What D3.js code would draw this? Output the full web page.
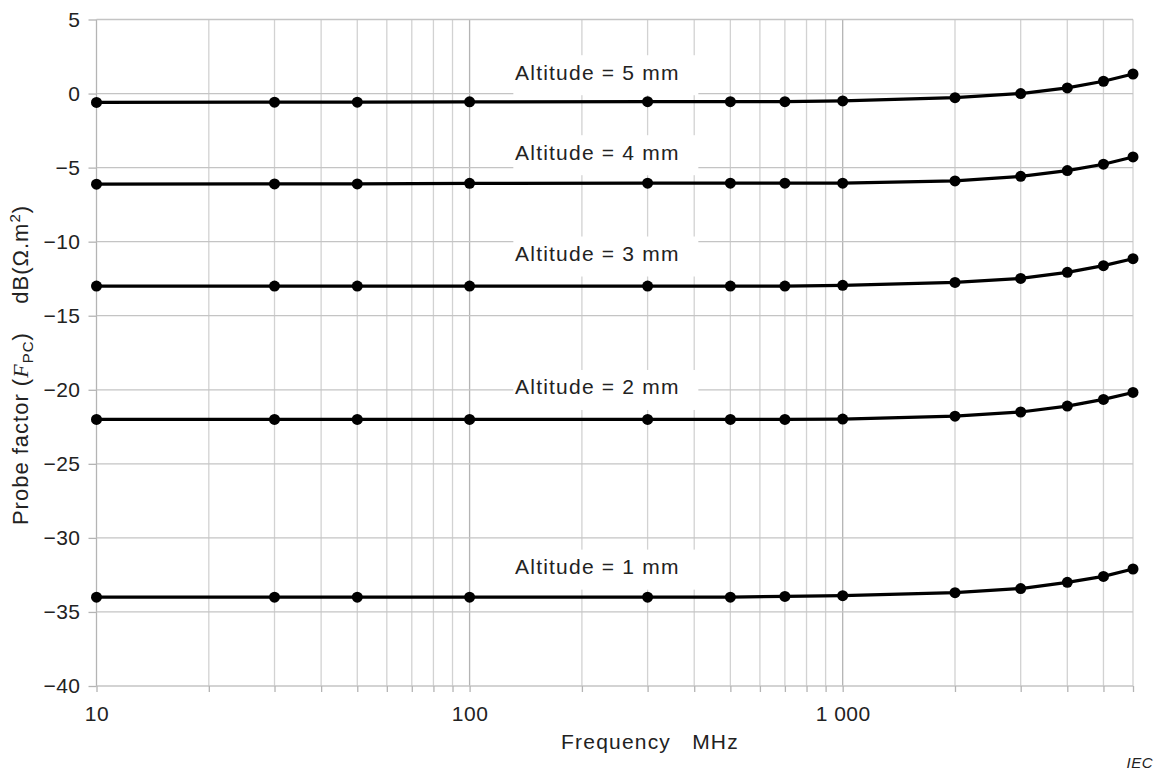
<!DOCTYPE html>
<html>
<head>
<meta charset="utf-8">
<script src="https://cdn.jsdelivr.net/npm/d3@7"></script>
<style>
  body { margin: 0; background: #fff; }
  svg { display: block; font-family: Arial, "Liberation Sans", sans-serif; }
</style>
</head>
<body>
<svg></svg>
<script>
var width = 1164;
var height = 774;

// data
var freqs = [10, 30, 50, 100, 300, 500, 700, 1000, 2000, 3000, 4000, 5000, 6000];
var alt5 = [-0.6, -0.58, -0.58, -0.56, -0.55, -0.55, -0.55, -0.5, -0.28, 0.0, 0.38, 0.83, 1.32];
var alt4 = [-6.12, -6.1, -6.1, -6.06, -6.05, -6.05, -6.05, -6.05, -5.9, -5.59, -5.2, -4.77, -4.28];
var alt3 = [-13, -13, -13, -13, -13, -13, -13, -12.95, -12.75, -12.48, -12.07, -11.62, -11.15];
var alt2 = [-22, -22, -22, -22, -22, -22, -22, -21.98, -21.78, -21.5, -21.1, -20.65, -20.18];
var alt1 = [-34, -34, -34, -34, -34, -34, -33.95, -33.9, -33.7, -33.42, -33.0, -32.6, -32.1];
var seriesNames = ['Altitude = 5 mm', 'Altitude = 4 mm', 'Altitude = 3 mm', 'Altitude = 2 mm', 'Altitude = 1 mm'];
var labelValues = [1.44, -3.96, -10.8, -19.81, -31.94];
var labelFreq = 220;

var yTicks = [5, 0, -5, -10, -15, -20, -25, -30, -35, -40];
var xMajor = [10, 100, 1000];
var xMajorLabels = ['10', '100', '1 000'];
var xGrid = [10, 20, 30, 40, 50, 60, 70, 80, 90, 100, 200, 300, 400, 500, 600, 700, 800, 900,
             1000, 2000, 3000, 4000, 5000, 6000];

var allSeries = [alt5, alt4, alt3, alt2, alt1];

var x = d3.scaleLog()
    .domain([10, 6000])
    .range([96.5, 1133]);

var y = d3.scaleLinear()
    .domain([-40, 5])
    .range([686, 19.5]);

const svg = d3.select('svg')
    .attr('width', width)
    .attr('height', height);

// grid
svg.append('g')
    .selectAll('line')
    .data(xGrid)
    .join('line')
    .attr('x1', d => x(d)).attr('x2', d => x(d))
    .attr('y1', y(5)).attr('y2', y(-40))
    .attr('stroke', d => xMajor.includes(d) ? '#b4b4b4' : '#d2d2d2')
    .attr('stroke-width', 1.3);

svg.append('g')
    .selectAll('line')
    .data(yTicks)
    .join('line')
    .attr('x1', x(10)).attr('x2', x(6000))
    .attr('y1', d => y(d)).attr('y2', d => y(d))
    .attr('stroke', '#c4c4c4')
    .attr('stroke-width', 1.3);

// axes
const xAxis = d3.axisBottom(x)
    .tickValues(xGrid)
    .tickSize(6)
    .tickPadding(14)
    .tickFormat(d => {
        var i = xMajor.indexOf(d);
        return i >= 0 ? xMajorLabels[i] : '';
    });

const yAxis = d3.axisLeft(y)
    .tickValues(yTicks)
    .tickSize(8)
    .tickPadding(8)
    .tickFormat(d => d < 0 ? '\u2212' + Math.abs(d) : d);

svg.append('g')
    .attr('transform', `translate(0,${y(-40)})`)
    .call(xAxis)
    .call(g => g.select('.domain').remove())
    .call(g => g.selectAll('line').attr('stroke', '#b4b4b4').attr('stroke-width', 1.3))
    .call(g => g.selectAll('text').attr('fill', '#222').attr('font-size', 21)
        .attr('letter-spacing', 0.5).attr('font-family', null));

svg.append('g')
    .attr('transform', `translate(${x(10)},0)`)
    .call(yAxis)
    .call(g => g.select('.domain').remove())
    .call(g => g.selectAll('line').attr('stroke', '#b4b4b4').attr('stroke-width', 1.3))
    .call(g => g.selectAll('text').attr('fill', '#222').attr('font-size', 21)
        .attr('letter-spacing', 0.5).attr('font-family', null));

// label boxes hide the grid behind them
var labels = svg.append('g')
    .selectAll('g')
    .data(seriesNames)
    .join('g')
    .attr('transform', (d, i) => `translate(${x(labelFreq)},${y(labelValues[i])})`);

labels.append('rect')
    .attr('x', -84).attr('y', -17)
    .attr('width', 185).attr('height', 40)
    .attr('fill', '#fff');

labels.append('text')
    .attr('text-anchor', 'middle')
    .attr('dy', '0.35em')
    .attr('font-size', 21)
    .attr('letter-spacing', 1.2)
    .attr('fill', '#222')
    .text(d => d);

// series
var line = d3.line()
    .x((d, i) => x(freqs[i]))
    .y(d => y(d));

var series = svg.append('g')
    .selectAll('g')
    .data(allSeries)
    .join('g');

series.append('path')
    .attr('d', d => line(d))
    .attr('fill', 'none')
    .attr('stroke', '#000')
    .attr('stroke-width', 3.2)
    .attr('stroke-linejoin', 'round');

series.selectAll('circle')
    .data(d => d)
    .join('circle')
    .attr('cx', (d, i) => x(freqs[i]))
    .attr('cy', d => y(d))
    .attr('r', 5.5)
    .attr('fill', '#000');

// axis titles
svg.append('text')
    .attr('x', 650)
    .attr('y', 749)
    .attr('text-anchor', 'middle')
    .attr('font-size', 21)
    .attr('letter-spacing', 1.2)
    .attr('fill', '#222')
    .attr('xml:space', 'preserve')
    .text('Frequency   MHz');

var yTitle = svg.append('text')
    .attr('transform', 'translate(28,365) rotate(-90)')
    .attr('text-anchor', 'middle')
    .attr('font-size', 22)
    .attr('letter-spacing', 1)
    .attr('fill', '#222')
    .attr('xml:space', 'preserve');
yTitle.append('tspan').text('Probe factor (');
yTitle.append('tspan').attr('font-family', '"Liberation Serif", "Times New Roman", serif').attr('font-style', 'italic').text('F');
yTitle.append('tspan').attr('font-size', 15).attr('dy', 5).text('PC');
yTitle.append('tspan').attr('dy', -5).text(')    dB(\u03A9.m');
yTitle.append('tspan').attr('font-size', 15).attr('dy', -8).text('2');
yTitle.append('tspan').attr('dy', 8).text(')');

svg.append('text')
    .attr('x', 1153)
    .attr('y', 768)
    .attr('text-anchor', 'end')
    .attr('font-size', 15)
    .attr('font-style', 'italic')
    .attr('letter-spacing', 0.5)
    .attr('fill', '#222')
    .text('IEC');
</script>
</body>
</html>
